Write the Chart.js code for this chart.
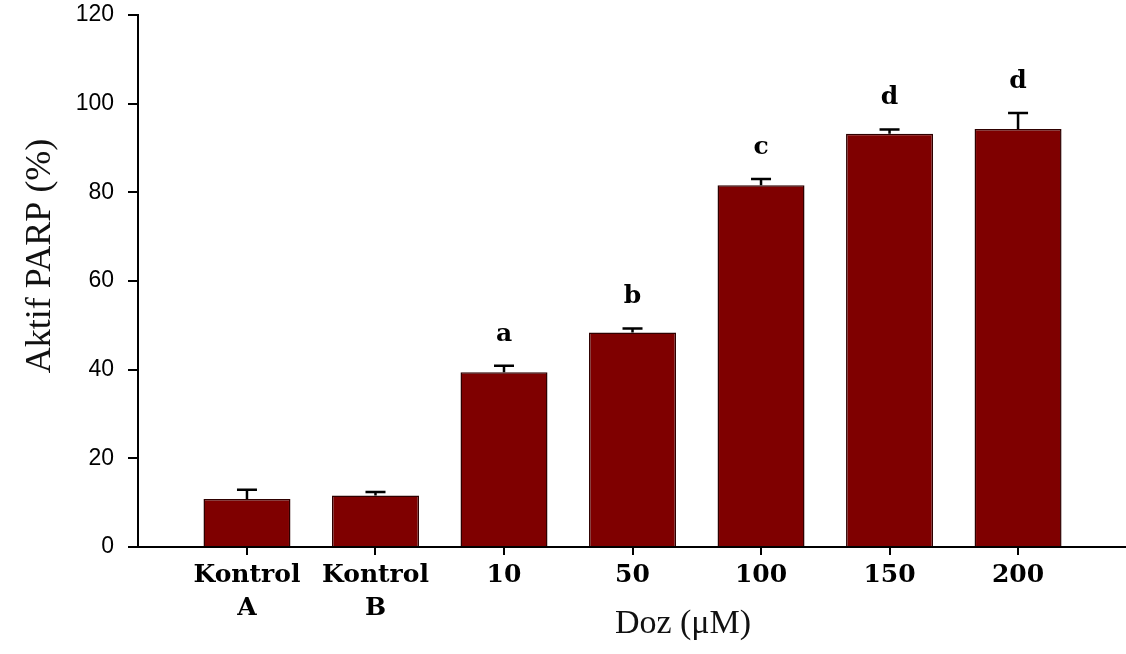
<!DOCTYPE html>
<html>
<head>
<meta charset="utf-8">
<script src="https://cdn.jsdelivr.net/npm/chart.js@4"></script>
<style>
  html, body { margin: 0; padding: 0; background: #fff; }
  canvas { display: block; }
</style>
</head>
<body>
<canvas id="chart" width="1126" height="654"></canvas>
<script>
// --- data ---
const categories = [['Kontrol', 'A'], ['Kontrol', 'B'], '10', '50', '100', '150', '200'];
const parpValues = [10.8, 11.6, 39.4, 48.4, 81.6, 93.2, 94.3];
const parpErrors = [2.1, 0.8, 1.5, 0.9, 1.4, 1.0, 3.6];
const groupLetters = ['', '', 'a', 'b', 'c', 'd', 'd'];
const yTicks = [0, 20, 40, 60, 80, 100, 120];

const barColor = '#7f0000';
const serif = "'Liberation Serif', 'Times New Roman', serif";
const boldSerif = "'DejaVu Serif', 'Liberation Serif', serif";

// --- error bars + significance letters ---
const errorBars = {
  id: 'errorBars',
  afterDatasetsDraw(chart) {
    const { ctx, scales: { x, y } } = chart;
    ctx.save();
    ctx.strokeStyle = '#000';
    ctx.lineWidth = 2.5;
    parpValues.forEach((v, i) => {
      const px = x.getPixelForValue(i);
      const top = y.getPixelForValue(v + parpErrors[i]);
      ctx.beginPath();
      ctx.moveTo(px, y.getPixelForValue(v));
      ctx.lineTo(px, top);
      ctx.moveTo(px - 10, top);
      ctx.lineTo(px + 10, top);
      ctx.stroke();

      if (groupLetters[i]) {
        ctx.fillStyle = '#000';
        ctx.font = 'bold 25px ' + boldSerif;
        ctx.textAlign = 'center';
        ctx.textBaseline = 'alphabetic';
        ctx.fillText(groupLetters[i], px, top - 25);
      }
    });
    ctx.restore();
  }
};

// --- axis titles ---
const axisTitles = {
  id: 'axisTitles',
  afterDraw(chart) {
    const { ctx } = chart;
    ctx.save();
    ctx.fillStyle = '#111';
    ctx.textAlign = 'center';
    ctx.textBaseline = 'alphabetic';

    ctx.font = '34px ' + serif;
    ctx.fillText('Doz (\u03bcM)', 683, 633);

    ctx.translate(50, 256);
    ctx.rotate(-Math.PI / 2);
    ctx.font = '36px ' + serif;
    ctx.fillText('Aktif PARP (%)', 0, 0);
    ctx.restore();
  }
};

new Chart(document.getElementById('chart'), {
  type: 'bar',
  data: {
    datasets: [{
      label: 'Aktif PARP (%)',
      data: parpValues.map((v, i) => ({ x: i, y: v })),
      backgroundColor: barColor,
      borderColor: '#2e0000',
      borderWidth: 1.5,
      barPercentage: 0.677,
      categoryPercentage: 1
    }]
  },
  options: {
    responsive: false,
    animation: false,
    layout: { padding: { top: 15, right: 0, left: 0, bottom: 0 } },
    plugins: {
      legend: { display: false },
      tooltip: { enabled: false }
    },
    scales: {
      x: {
        type: 'linear',
        offset: false,
        min: -0.848,
        max: 6.84,
        afterBuildTicks: axis => {
          axis.ticks = categories.map((_, i) => ({ value: i }));
        },
        afterFit: scale => {
          scale.height = 107;
          scale.paddingLeft = 0;
          scale.paddingRight = 0;
        },
        border: { display: true, color: '#000', width: 2 },
        grid: { offset: false, drawOnChartArea: false, color: '#000', lineWidth: 2, tickLength: 8 },
        ticks: {
          color: '#000',
          padding: 4,
          maxRotation: 0,
          autoSkip: false,
          font: { family: boldSerif, size: 25, weight: 'bold', lineHeight: 1.32 },
          callback: v => categories[v]
        }
      },
      y: {
        min: 0,
        max: 120,
        afterBuildTicks: axis => {
          axis.ticks = yTicks.map(v => ({ value: v }));
        },
        afterFit: scale => {
          scale.width = 138;
          scale.paddingTop = 0;
          scale.paddingBottom = 0;
        },
        border: { display: true, color: '#000', width: 2 },
        grid: { drawOnChartArea: false, color: '#000', lineWidth: 2, tickLength: 10 },
        ticks: {
          color: '#000',
          padding: 14,
          font: { family: "'Liberation Sans', Arial, sans-serif", size: 23 }
        }
      }
    }
  },
  plugins: [errorBars, axisTitles]
});
</script>
</body>
</html>
